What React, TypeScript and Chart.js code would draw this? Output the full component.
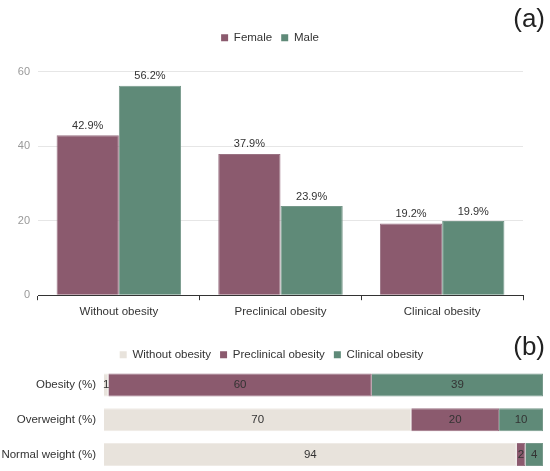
import React, { useEffect, useRef } from 'react';
import { Chart, registerables } from 'chart.js';

Chart.register(...registerables);

const FONT = "'Liberation Sans', Arial, sans-serif";

// Panel (a)
const groupCategories = ['Without obesity', 'Preclinical obesity', 'Clinical obesity'];
const femaleValues = [42.9, 37.9, 19.2];
const maleValues = [56.2, 23.9, 19.9];
const yTickMax = 60;
const yTickStep = 20;

// Panel (b)
const weightCategories = ['Obesity (%)', 'Overweight (%)', 'Normal weight (%)'];
const withoutObesityValues = [1, 70, 94];
const preclinicalValues = [60, 20, 2];
const clinicalValues = [39, 10, 4];

const COLOR_PLUM = '#8b5a6e';
const COLOR_GREEN = '#5f8a78';
const COLOR_BEIGE = '#e8e3dc';
const EDGE_PLUM = '#9a7283';
const EDGE_GREEN = '#77998b';
const EDGE_BEIGE = '#efebe6';

const valueLabelPlugin = {
  id: 'valueLabels',
  afterDatasetsDraw(chart: any, _args: any, opts: any) {
    const { ctx } = chart;
    ctx.save();
    ctx.font = `${opts.size}px ${FONT}`;
    ctx.fillStyle = opts.color;
    ctx.textAlign = 'center';
    chart.data.datasets.forEach((ds: any, di: number) => {
      const meta = chart.getDatasetMeta(di);
      meta.data.forEach((el: any, i: number) => {
        const v = ds.data[i];
        if (opts.mode === 'top') {
          ctx.textBaseline = 'bottom';
          ctx.fillText(v.toFixed(1) + '%', el.x, el.y - 4);
        } else {
          ctx.textBaseline = 'middle';
          ctx.fillText(String(v), (el.x + el.base) / 2, el.y);
        }
      });
    });
    ctx.restore();
  },
};

const panelLetterPlugin = {
  id: 'panelLetter',
  afterDraw(chart: any, _args: any, opts: any) {
    const { ctx } = chart;
    ctx.save();
    ctx.font = `${opts.size}px ${FONT}`;
    ctx.fillStyle = '#222';
    ctx.textAlign = 'right';
    ctx.textBaseline = 'middle';
    ctx.fillText(opts.text, chart.width - opts.right, opts.y);
    ctx.restore();
  },
};

const legendSpacingPlugin = {
  id: 'legendSpacing',
  beforeInit(chart: any, _args: any, opts: any) {
    const legend = chart.legend;
    if (!legend) return;
    const origFit = legend.fit;
    legend.fit = function () {
      origFit.call(this);
      this.height += opts.extra || 0;
    };
  },
};

const plainLegendLabels = (chart: any) =>
  chart.data.datasets.map((ds: any, i: number) => ({
    text: ds.label, fillStyle: ds.backgroundColor, strokeStyle: ds.backgroundColor,
    lineWidth: 0, hidden: false, datasetIndex: i, fontColor: '#333',
  }));

function TopChart() {
  const ref = useRef<HTMLCanvasElement>(null);
  useEffect(() => {
    const common = { categoryPercentage: 0.77, barPercentage: 1.0, borderWidth: 1 };
    const chart = new Chart(ref.current!, {
      type: 'bar',
      data: {
        labels: groupCategories,
        datasets: [
          { label: 'Female', data: femaleValues, backgroundColor: COLOR_PLUM, borderColor: EDGE_PLUM, ...common },
          { label: 'Male', data: maleValues, backgroundColor: COLOR_GREEN, borderColor: EDGE_GREEN, ...common },
        ],
      },
      options: {
        animation: false,
        responsive: true,
        maintainAspectRatio: false,
        layout: { padding: { top: 23, right: 10, left: 0, bottom: 6 } },
        scales: {
          x: {
            grid: { offset: true, drawOnChartArea: false, drawTicks: true, tickLength: 5, color: '#333' },
            border: { color: '#333', width: 1 },
            ticks: { color: '#333', font: { size: 11.5, family: FONT }, padding: 5 },
          },
          y: {
            min: 0,
            max: yTickMax,
            ticks: { stepSize: yTickStep, color: '#999', font: { size: 11, family: FONT }, padding: 8 },
            grid: { color: '#e6e6e6', drawTicks: false },
            border: { display: false },
            afterFit: (s: any) => { s.width = 38; s.paddingTop = 0; s.paddingBottom = 0; },
          },
          yR: {
            type: 'linear',
            position: 'right',
            display: true,
            ticks: { display: false },
            grid: { display: false, drawTicks: false },
            border: { display: false },
            afterFit: (s: any) => { s.width = 17; s.paddingTop = 0; s.paddingBottom = 0; },
          },
        },
        plugins: {
          legend: {
            position: 'top',
            labels: {
              boxWidth: 7, boxHeight: 7, padding: 9, color: '#333', font: { size: 11.5, family: FONT },
              generateLabels: plainLegendLabels,
            },
          },
          tooltip: { enabled: false },
          valueLabels: { mode: 'top', size: 11, color: '#333' },
          panelLetter: { text: '(a)', size: 26, right: 5, y: 20 },
          legendSpacing: { extra: 18 },
        } as any,
      },
      plugins: [valueLabelPlugin, panelLetterPlugin, legendSpacingPlugin],
    } as any);
    return () => chart.destroy();
  }, []);
  return (
    <div style={{ position: 'absolute', top: 0, left: 0, width: 550, height: 330 }}>
      <canvas ref={ref} />
    </div>
  );
}

function BottomChart() {
  const ref = useRef<HTMLCanvasElement>(null);
  useEffect(() => {
    const common = { categoryPercentage: 0.66, barPercentage: 1.0, borderWidth: 1 };
    const chart = new Chart(ref.current!, {
      type: 'bar',
      data: {
        labels: weightCategories,
        datasets: [
          { label: 'Without obesity', data: withoutObesityValues, backgroundColor: COLOR_BEIGE, borderColor: EDGE_BEIGE, ...common },
          { label: 'Preclinical obesity', data: preclinicalValues, backgroundColor: COLOR_PLUM, borderColor: EDGE_PLUM, ...common },
          { label: 'Clinical obesity', data: clinicalValues, backgroundColor: COLOR_GREEN, borderColor: EDGE_GREEN, ...common },
        ],
      },
      options: {
        indexAxis: 'y',
        animation: false,
        responsive: true,
        maintainAspectRatio: false,
        layout: { padding: { top: 10, right: 7, left: 0, bottom: 0 } },
        scales: {
          x: { stacked: true, min: 0, max: 100, display: false },
          y: {
            stacked: true,
            ticks: { color: '#333', font: { size: 11.5, family: FONT }, padding: 8 },
            grid: { display: false, drawTicks: false },
            border: { display: false },
            afterFit: (s: any) => { s.width = 104; s.paddingTop = 0; s.paddingBottom = 0; },
          },
        },
        plugins: {
          legend: {
            position: 'top',
            labels: {
              boxWidth: 7, boxHeight: 7, padding: 9, color: '#333', font: { size: 11.5, family: FONT },
              generateLabels: plainLegendLabels,
            },
          },
          tooltip: { enabled: false },
          valueLabels: { mode: 'center', size: 11.5, color: '#333' },
          panelLetter: { text: '(b)', size: 26, right: 5, y: 18 },
          legendSpacing: { extra: -3 },
        } as any,
      },
      plugins: [valueLabelPlugin, panelLetterPlugin, legendSpacingPlugin],
    } as any);
    return () => chart.destroy();
  }, []);
  return (
    <div style={{ position: 'absolute', top: 330, left: 0, width: 550, height: 142 }}>
      <canvas ref={ref} />
    </div>
  );
}

export default function App() {
  return (
    <div style={{ position: 'fixed', top: 0, left: 0, width: 550, height: 471, overflow: 'hidden', background: '#fff' }}>
      <TopChart />
      <BottomChart />
    </div>
  );
}
